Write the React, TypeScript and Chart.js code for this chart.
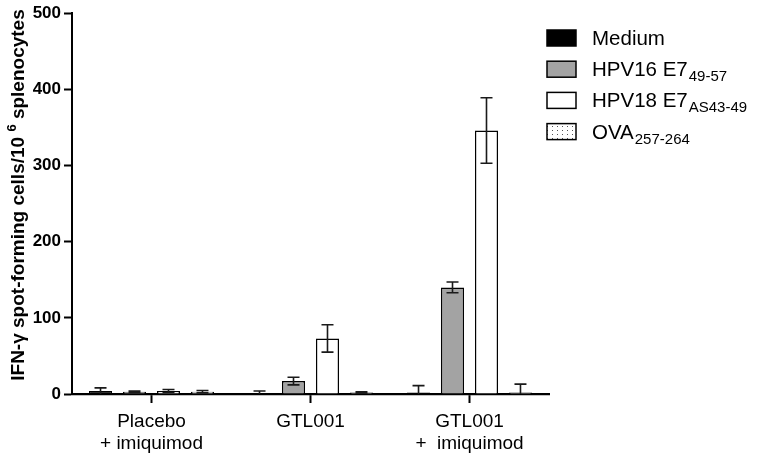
import React, { useEffect, useRef } from 'react';
import { Chart, registerables } from 'chart.js';

Chart.register(...registerables);

// ---- data ----
const categories: string[][] = [['Placebo', '+ imiquimod'], ['GTL001'], ['GTL001', '+  imiquimod']];
const seriesNames = ['Medium', 'HPV16 E7', 'HPV18 E7', 'OVA'];
const seriesSubs = ['', '49-57', 'AS43-49', '257-264'];
const medium = [4, 0.5, 2];
const mediumErr = [4, 3.5, 9];
const hpv16 = [3, 17, 140];
const hpv16Err = [1, 5, 7];
const hpv18 = [4, 73, 346];
const hpv18Err = [2, 18, 43];
const ova = [3, 2, 2];
const ovaErr = [1.5, 1, 11];
const yMin = 0;
const yMax = 500;
const yStep = 100;
const yTitleMain = 'IFN-\u03b3 spot-forming cells/10 ';
const yTitleSup = '6';
const yTitleEnd = ' splenocytes';

const FONT = 'Arial, "Liberation Sans", sans-serif';

function makeDotPattern(ctx: CanvasRenderingContext2D): CanvasPattern | string {
  const c = document.createElement('canvas');
  c.width = 5;
  c.height = 4;
  const p = c.getContext('2d');
  if (!p) return '#fff';
  p.fillStyle = '#ffffff';
  p.fillRect(0, 0, 5, 4);
  p.fillStyle = '#555555';
  p.fillRect(2, 2, 1, 1);
  return ctx.createPattern(c, 'repeat') || '#fff';
}

export default function App() {
  const ref = useRef<HTMLCanvasElement | null>(null);

  useEffect(() => {
    const canvas = ref.current;
    if (!canvas) return;
    const ctx0 = canvas.getContext('2d')!;
    const dots = makeDotPattern(ctx0);
    const fills: any[] = ['#000000', '#a3a3a3', '#ffffff', dots];
    const values = [medium, hpv16, hpv18, ova];
    const errors = [mediumErr, hpv16Err, hpv18Err, ovaErr];

    const errorBars = {
      id: 'errorBars',
      afterDatasetsDraw(chart: any) {
        const ctx = chart.ctx;
        const y = chart.scales.y;
        chart.data.datasets.forEach((ds: any, i: number) => {
          const meta = chart.getDatasetMeta(i);
          meta.data.forEach((bar: any, j: number) => {
            const v = ds.data[j];
            const e = ds.errors[j];
            const top = y.getPixelForValue(v + e);
            const low = v - e;
            const bot = y.getPixelForValue(Math.max(0, low));
            ctx.save();
            ctx.strokeStyle = '#1a1a1a';
            ctx.lineWidth = 1.6;
            ctx.beginPath();
            ctx.moveTo(bar.x, top);
            ctx.lineTo(bar.x, bot);
            ctx.moveTo(bar.x - 6, top);
            ctx.lineTo(bar.x + 6, top);
            if (low > 0) {
              ctx.moveTo(bar.x - 6, bot);
              ctx.lineTo(bar.x + 6, bot);
            }
            ctx.stroke();
            ctx.restore();
          });
        });
      },
    };

    const customLegend = {
      id: 'customLegend',
      afterDraw(chart: any) {
        const ctx = chart.ctx;
        const left = chart.chartArea.right - 2;
        ctx.save();
        seriesNames.forEach((name, i) => {
          const cy = 38 + i * 31.2;
          ctx.fillStyle = fills[i];
          ctx.fillRect(left, cy - 8, 29, 16);
          ctx.strokeStyle = '#000';
          ctx.lineWidth = 1.5;
          ctx.strokeRect(left, cy - 8, 29, 16);
          ctx.fillStyle = '#000';
          ctx.textBaseline = 'alphabetic';
          ctx.textAlign = 'left';
          ctx.font = `20.5px ${FONT}`;
          const tx = left + 45;
          ctx.fillText(name, tx, cy + 7);
          const w = ctx.measureText(name).width;
          if (seriesSubs[i]) {
            ctx.font = `15px ${FONT}`;
            ctx.fillText(seriesSubs[i], tx + w + 1, cy + 12);
          }
        });
        ctx.restore();
      },
    };

    const yTitle = {
      id: 'yTitle',
      afterDraw(chart: any) {
        const ctx = chart.ctx;
        ctx.save();
        ctx.translate(19, 195);
        ctx.rotate(-Math.PI / 2);
        ctx.fillStyle = '#000';
        ctx.textBaseline = 'middle';
        ctx.textAlign = 'left';
        const fMain = `bold 19px ${FONT}`;
        const fSup = `bold 13px ${FONT}`;
        ctx.font = fMain;
        const w1 = ctx.measureText(yTitleMain).width;
        const w3 = ctx.measureText(yTitleEnd).width;
        ctx.font = fSup;
        const w2 = ctx.measureText(yTitleSup).width;
        let x = -(w1 + w2 + w3) / 2;
        ctx.font = fMain;
        ctx.fillText(yTitleMain, x, 0);
        x += w1;
        ctx.font = fSup;
        ctx.fillText(yTitleSup, x, -7);
        x += w2;
        ctx.font = fMain;
        ctx.fillText(yTitleEnd, x, 0);
        ctx.restore();
      },
    };

    const chart = new Chart(canvas, {
      type: 'bar',
      data: {
        labels: categories,
        datasets: seriesNames.map((n, i) => ({
          label: n,
          data: values[i],
          errors: errors[i],
          backgroundColor: fills[i],
          borderColor: '#000000',
          borderWidth: 1.5,
          categoryPercentage: 0.855,
          barPercentage: 0.68,
        })) as any,
      },
      options: {
        responsive: false,
        animation: false,
        events: [],
        layout: { padding: { top: 11, right: 211, left: 0, bottom: 0 } },
        plugins: {
          legend: { display: false },
          tooltip: { enabled: false },
          title: { display: false },
        },
        scales: {
          x: {
            offset: true,
            grid: {
              display: true,
              offset: false,
              drawOnChartArea: false,
              drawTicks: true,
              tickLength: 9,
              tickWidth: 2,
              tickColor: '#000',
            },
            border: { display: true, color: '#000', width: 2.2 },
            ticks: {
              color: '#000',
              padding: 8,
              maxRotation: 0,
              autoSkip: false,
              font: { family: FONT, size: 19, lineHeight: 1.15 },
            },
            afterFit(scale: any) {
              scale.height = 64;
            },
          },
          y: {
            min: yMin,
            max: yMax,
            ticks: {
              stepSize: yStep,
              color: '#000',
              padding: 3,
              font: { family: FONT, size: 17, weight: 'bold' },
            },
            grid: {
              display: true,
              drawOnChartArea: false,
              drawTicks: true,
              tickLength: 8,
              tickWidth: 2,
              tickColor: '#000',
            },
            border: { display: true, color: '#000', width: 2 },
            afterFit(scale: any) {
              scale.width = 72;
            },
          },
        },
      } as any,
      plugins: [errorBars, customLegend, yTitle],
    });
    return () => chart.destroy();
  }, []);

  return (
    <div style={{ position: 'absolute', left: 0, top: 0, width: 760, height: 458, background: '#fff' }}>
      <canvas ref={ref} width={760} height={458} style={{ display: 'block' }} />
    </div>
  );
}
